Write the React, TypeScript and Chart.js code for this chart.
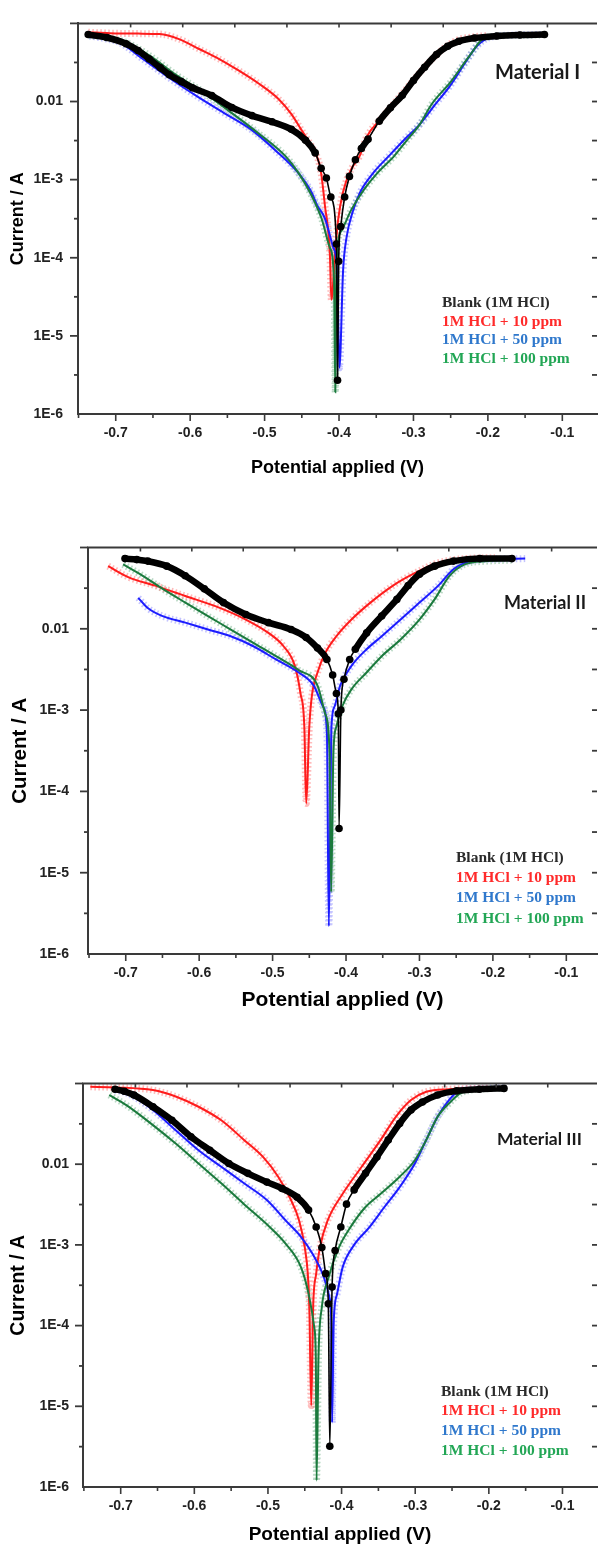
import { useEffect, useRef } from 'react';
import { Chart, registerables } from 'chart.js';

Chart.register(...registerables);

type Pt = [number, number];

// ---------- Material I : [potential (V), current (A)] ----------
const m1Blank: Pt[] = [
  [-0.737, 0.072], [-0.712, 0.066], [-0.686, 0.055], [-0.67, 0.045], [-0.655, 0.035],
  [-0.64, 0.027], [-0.628, 0.022], [-0.612, 0.018], [-0.597, 0.015], [-0.571, 0.0119],
  [-0.544, 0.0084], [-0.517, 0.0066], [-0.49, 0.0055], [-0.464, 0.0044], [-0.445, 0.0032],
  [-0.432, 0.0022], [-0.424, 0.0014], [-0.417, 0.00105], [-0.411, 0.0006], [-0.4035, 0.00015],
  [-0.402, 0.0000027], [-0.4005, 0.00009], [-0.3977, 0.00025], [-0.3924, 0.0006], [-0.386, 0.0011],
  [-0.378, 0.0018], [-0.37, 0.0025], [-0.361, 0.0033], [-0.346, 0.0056], [-0.331, 0.0083],
  [-0.315, 0.012], [-0.3, 0.0186], [-0.285, 0.0275], [-0.269, 0.04], [-0.254, 0.051],
  [-0.239, 0.059], [-0.218, 0.065], [-0.188, 0.069], [-0.157, 0.071], [-0.124, 0.072],
];
const m1Ppm10: Pt[] = [
  [-0.737, 0.077], [-0.708, 0.075], [-0.67, 0.074], [-0.641, 0.073], [-0.615, 0.063],
  [-0.588, 0.047], [-0.561, 0.035], [-0.535, 0.025], [-0.508, 0.017], [-0.481, 0.0107],
  [-0.464, 0.0069], [-0.451, 0.0044], [-0.437, 0.0027], [-0.428, 0.0018], [-0.424, 0.0012],
  [-0.419, 0.00047], [-0.4123, 0.000112], [-0.4103, 0.000029], [-0.405, 0.000123], [-0.4013, 0.0003],
  [-0.3947, 0.00069], [-0.3836, 0.00136], [-0.3724, 0.002], [-0.363, 0.0035], [-0.3425, 0.0062],
  [-0.317, 0.012], [-0.2915, 0.0235], [-0.271, 0.038], [-0.2557, 0.051], [-0.2404, 0.0615],
  [-0.215, 0.068], [-0.2, 0.07],
];
const m1Ppm50: Pt[] = [
  [-0.735, 0.069], [-0.715, 0.064], [-0.695, 0.057], [-0.6636, 0.035], [-0.628, 0.02],
  [-0.588, 0.0112], [-0.552, 0.0069], [-0.517, 0.0043], [-0.486, 0.0024], [-0.455, 0.00123],
  [-0.437, 0.00069], [-0.4295, 0.00047], [-0.419, 0.00032], [-0.408, 0.000138], [-0.4025, 0.000069],
  [-0.3995, 0.0000039], [-0.3945, 0.00007], [-0.39, 0.00018], [-0.3815, 0.00039], [-0.3716, 0.00069],
  [-0.3537, 0.00123], [-0.3332, 0.002], [-0.313, 0.0032], [-0.2915, 0.0051], [-0.271, 0.0091],
  [-0.2506, 0.016], [-0.2302, 0.0316], [-0.215, 0.051], [-0.1996, 0.065], [-0.164, 0.071],
  [-0.124, 0.072],
];
const m1Ppm100: Pt[] = [
  [-0.736, 0.07], [-0.71, 0.065], [-0.686, 0.057], [-0.655, 0.039], [-0.619, 0.022],
  [-0.584, 0.0135], [-0.548, 0.0076], [-0.508, 0.0039], [-0.472, 0.002], [-0.4547, 0.00123],
  [-0.437, 0.00063], [-0.4236, 0.00032], [-0.4123, 0.000135], [-0.4067, 0.000052], [-0.405, 0.0000019],
  [-0.4035, 0.00008], [-0.397, 0.00022], [-0.3836, 0.00041], [-0.3658, 0.00076], [-0.348, 0.00123],
  [-0.326, 0.002], [-0.31, 0.0031], [-0.2915, 0.0051], [-0.276, 0.0091], [-0.25, 0.0178],
  [-0.225, 0.038], [-0.2047, 0.065], [-0.17, 0.07], [-0.13, 0.071],
];

// ---------- Material II ----------
const m2Blank: Pt[] = [
  [-0.701, 0.073], [-0.685, 0.071], [-0.67, 0.068], [-0.644, 0.059], [-0.619, 0.045],
  [-0.593, 0.031], [-0.567, 0.021], [-0.5365, 0.015], [-0.5057, 0.0119], [-0.4748, 0.0098],
  [-0.4542, 0.0078], [-0.4388, 0.0058], [-0.426, 0.0042], [-0.4182, 0.0027], [-0.4131, 0.0016],
  [-0.4105, 0.0009], [-0.4095, 0.000035], [-0.407, 0.001], [-0.4028, 0.0024], [-0.395, 0.0042],
  [-0.3874, 0.0056], [-0.372, 0.0089], [-0.3514, 0.0144], [-0.3308, 0.023], [-0.3154, 0.034],
  [-0.3, 0.047], [-0.2794, 0.059], [-0.2537, 0.068], [-0.2177, 0.073], [-0.174, 0.073],
];
const m2Ppm10: Pt[] = [
  [-0.724, 0.059], [-0.696, 0.043], [-0.66, 0.034], [-0.619, 0.0253], [-0.578, 0.019],
  [-0.5365, 0.013], [-0.5057, 0.0089], [-0.4851, 0.0061], [-0.4697, 0.0035], [-0.462, 0.0016],
  [-0.4568, 0.00063], [-0.4542, 0.000071], [-0.45, 0.00063], [-0.4465, 0.0015], [-0.4388, 0.0029],
  [-0.4285, 0.005], [-0.4131, 0.0081], [-0.3926, 0.013], [-0.3668, 0.021], [-0.336, 0.034],
  [-0.3051, 0.049], [-0.2743, 0.065], [-0.2383, 0.073], [-0.197, 0.075],
];
const m2Ppm50: Pt[] = [
  [-0.683, 0.024], [-0.67, 0.018], [-0.6496, 0.0143], [-0.6188, 0.0119], [-0.588, 0.0098],
  [-0.557, 0.0081], [-0.5262, 0.0061], [-0.4954, 0.0042], [-0.4645, 0.0029], [-0.444, 0.002],
  [-0.4311, 0.0011], [-0.426, 0.00052], [-0.4234, 0.0000022], [-0.4198, 0.00063], [-0.4157, 0.0011],
  [-0.408, 0.002], [-0.3926, 0.0035], [-0.372, 0.0056], [-0.3514, 0.0081], [-0.3257, 0.013],
  [-0.3, 0.021], [-0.2743, 0.034], [-0.2537, 0.054], [-0.2332, 0.067], [-0.197, 0.072],
  [-0.156, 0.073],
];
const m2Ppm100: Pt[] = [
  [-0.7036, 0.062], [-0.6805, 0.047], [-0.6496, 0.031], [-0.6188, 0.021], [-0.588, 0.0143],
  [-0.557, 0.0098], [-0.5262, 0.0067], [-0.4954, 0.0046], [-0.4645, 0.0031], [-0.4388, 0.002],
  [-0.4285, 0.00091], [-0.4224, 0.0003], [-0.4203, 0.0000058], [-0.4172, 0.0003], [-0.4131, 0.00063],
  [-0.4054, 0.0011], [-0.3926, 0.0018], [-0.372, 0.0029], [-0.3514, 0.0046], [-0.3257, 0.0074],
  [-0.3, 0.013], [-0.2794, 0.023], [-0.2588, 0.045], [-0.2383, 0.062], [-0.2075, 0.068],
  [-0.174, 0.07],
];

// ---------- Material III ----------
const m3Blank: Pt[] = [
  [-0.7077, 0.085], [-0.695, 0.08], [-0.682, 0.072], [-0.6562, 0.0515], [-0.6304, 0.035],
  [-0.6046, 0.0219], [-0.5789, 0.0149], [-0.5531, 0.0102], [-0.5273, 0.0077], [-0.5015, 0.006],
  [-0.4809, 0.005], [-0.4603, 0.0039], [-0.4448, 0.0027], [-0.4345, 0.00167], [-0.4268, 0.00093],
  [-0.4216, 0.00044], [-0.418, 0.000186], [-0.416, 0.0000032], [-0.4129, 0.0003], [-0.4088, 0.00085],
  [-0.401, 0.00167], [-0.3933, 0.0032], [-0.383, 0.0048], [-0.3675, 0.0077], [-0.352, 0.0123],
  [-0.3366, 0.02], [-0.3211, 0.032], [-0.3057, 0.047], [-0.2902, 0.059], [-0.2696, 0.072],
  [-0.2438, 0.081], [-0.2129, 0.085], [-0.1794, 0.087],
];
const m3Ppm10: Pt[] = [
  [-0.7412, 0.091], [-0.7077, 0.0895], [-0.6562, 0.083], [-0.6253, 0.069], [-0.5943, 0.0515],
  [-0.5634, 0.035], [-0.5325, 0.02], [-0.5067, 0.0123], [-0.4861, 0.007], [-0.4706, 0.0039],
  [-0.4577, 0.002], [-0.45, 0.00093], [-0.4459, 0.00044], [-0.4438, 0.00017], [-0.4412, 0.0000102],
  [-0.4386, 0.00017], [-0.4345, 0.00044], [-0.4294, 0.00093], [-0.419, 0.002], [-0.3985, 0.0043],
  [-0.3727, 0.0093], [-0.3469, 0.02], [-0.3263, 0.0387], [-0.3057, 0.0623], [-0.285, 0.079],
  [-0.2541, 0.085], [-0.218, 0.087], [-0.2, 0.088],
];
const m3Ppm50: Pt[] = [
  [-0.7077, 0.083], [-0.695, 0.078], [-0.682, 0.0686], [-0.6562, 0.047], [-0.6253, 0.0264],
  [-0.5943, 0.0149], [-0.5634, 0.0093], [-0.5325, 0.0058], [-0.5015, 0.0036], [-0.4758, 0.002],
  [-0.4552, 0.00126], [-0.4397, 0.00078], [-0.4242, 0.0004], [-0.4165, 0.000225], [-0.4139, 0.000105],
  [-0.4129, 0.0000063], [-0.4108, 0.000105], [-0.4062, 0.000245], [-0.3985, 0.00053], [-0.383, 0.001],
  [-0.3624, 0.00165], [-0.3418, 0.00295], [-0.3211, 0.0052], [-0.3005, 0.0102], [-0.285, 0.02],
  [-0.2696, 0.0387], [-0.2541, 0.0623], [-0.2387, 0.083], [-0.2129, 0.087], [-0.1768, 0.089],
];
const m3Ppm100: Pt[] = [
  [-0.7155, 0.072], [-0.6923, 0.054], [-0.6562, 0.0305], [-0.6253, 0.018], [-0.5943, 0.0102],
  [-0.5634, 0.0058], [-0.5325, 0.0032], [-0.5015, 0.0018], [-0.4758, 0.00103], [-0.4552, 0.00053],
  [-0.4448, 0.000247], [-0.4371, 0.000095], [-0.435, 0.00004], [-0.434, 0.0000012], [-0.4314, 0.00004],
  [-0.4268, 0.00017], [-0.419, 0.00036], [-0.4036, 0.00093], [-0.3881, 0.00165], [-0.3675, 0.00295],
  [-0.3469, 0.0043], [-0.3211, 0.007], [-0.3005, 0.0112], [-0.285, 0.02], [-0.2696, 0.0387],
  [-0.2541, 0.0567], [-0.2387, 0.0755], [-0.2129, 0.085], [-0.182, 0.087],
];

// ---------- labels & ticks ----------
const seriesLabels = ['Blank (1M HCl)', '1M HCl + 10 ppm', '1M HCl + 50 ppm', '1M HCl + 100 ppm'];
const materialNames = ['Material I', 'Material II', 'Material III'];
const xTitle = 'Potential applied (V)';
const yTitle = 'Current / A';
const xMajorTicks = [-0.7, -0.6, -0.5, -0.4, -0.3, -0.2, -0.1];
const xMinorTicks = [-0.75, -0.65, -0.55, -0.45, -0.35, -0.25, -0.15];
const xTopTicks = [-0.68, -0.61, -0.54, -0.47, -0.4, -0.33, -0.26, -0.19, -0.12];
const yDecades = [1e-6, 1e-5, 1e-4, 1e-3, 1e-2, 1e-1];
const yDecadeLabels = ['1E-6', '1E-5', '1E-4', '1E-3', '0.01', ''];
const yHalves = [3.162e-6, 3.162e-5, 3.162e-4, 3.162e-3, 3.162e-2];

const panelSeries: Pt[][][] = [
  [m1Blank, m1Ppm10, m1Ppm50, m1Ppm100],
  [m2Blank, m2Ppm10, m2Ppm50, m2Ppm100],
  [m3Blank, m3Ppm10, m3Ppm50, m3Ppm100],
];

// ---------- styles / layout ----------
const lineColors = ['#000000', '#ff1c1c', '#1c1cff', '#1b7a3d'];
const haloColors = ['', 'rgba(255,120,120,0.5)', 'rgba(140,140,255,0.5)', 'rgba(130,185,150,0.55)'];
const legendColors = ['#2a2a2a', '#ff2a2a', '#2f78cc', '#22a655'];
const lineOrder = [0, 3, 2, 1];
const AX = '#3a3a3a';
const SANS = "'Liberation Sans', Arial, sans-serif";

const layouts = [
  { top: 0, height: 520, plotTop: 13, plotBottom: 414, plotLeft: 78, xMin: -0.7507, xMax: -0.0534,
    xTitleSize: 18, yTitleSize: 18, xTitlePad: 41, yTitlePad: 7.6, yTickPad: 15,
    matX: 495, matY: 73, matSize: 20, legX: 442, legY: [303, 321.5, 340, 358.5] },
  { top: 520, height: 520, plotTop: 27.5, plotBottom: 434, plotLeft: 88, xMin: -0.7514, xMax: -0.0582,
    xTitleSize: 21, yTitleSize: 20.5, xTitlePad: 27.4, yTitlePad: 7.7, yTickPad: 19,
    matX: 504, matY: 83, matSize: 18, legX: 456, legY: [338, 358, 378, 399] },
  { top: 1040, height: 508, plotTop: 43.5, plotBottom: 447, plotLeft: 83, xMin: -0.7512, xMax: -0.0531,
    xTitleSize: 19, yTitleSize: 19.5, xTitlePad: 1.6, yTitlePad: 7.3, yTickPad: 14,
    matX: 497, matY: 99, matSize: 17.5, legX: 441, legY: [352, 371, 391, 411] },
];

const decor = {
  id: 'decor',
  afterDraw(chart: any, _args: any, opts: any) {
    const { ctx, chartArea: a, scales } = chart;
    const xs = scales.x;
    const ys = scales.y;
    ctx.save();
    ctx.strokeStyle = AX;
    const seg = (x1: number, y1: number, x2: number, y2: number, w: number) => {
      ctx.lineWidth = w;
      ctx.beginPath();
      ctx.moveTo(x1, y1);
      ctx.lineTo(x2, y2);
      ctx.stroke();
    };
    // top frame
    seg(a.left - 1, a.top, a.right, a.top, 2);
    const inX = (v: number) => v >= xs.min - 1e-9 && v <= xs.max + 1e-9;
    for (const v of xMajorTicks) if (inX(v)) { const p = xs.getPixelForValue(v); seg(p, a.bottom, p, a.bottom + 7, 1.6); }
    for (const v of xMinorTicks) if (inX(v)) { const p = xs.getPixelForValue(v); seg(p, a.bottom, p, a.bottom + 4, 1.6); }
    for (const v of xTopTicks) if (inX(v)) { const p = xs.getPixelForValue(v); seg(p, a.top, p, a.top + 4, 1.6); }
    yDecades.forEach((v, i) => {
      if (i === 0) return;
      const p = ys.getPixelForValue(v);
      seg(a.left - 8, p, a.left, p, 1.8);
      if (i < yDecades.length - 1) seg(a.right - 5, p, a.right, p, 1.8);
    });
    for (const v of yHalves) {
      const p = ys.getPixelForValue(v);
      seg(a.left - 4, p, a.left, p, 1.8);
      seg(a.right - 5, p, a.right, p, 1.8);
    }
    // material name
    ctx.fillStyle = '#1a1a1a';
    ctx.textBaseline = 'middle';
    ctx.textAlign = 'left';
    ctx.font = `bold ${opts.matSize}px Lato, 'Open Sans', sans-serif`;
    ctx.fillText(opts.material, opts.matX, opts.matY);
    // legend text
    ctx.font = "bold 15.5px 'Liberation Serif', 'Times New Roman', serif";
    seriesLabels.forEach((t, i) => {
      ctx.fillStyle = legendColors[i];
      ctx.fillText(t, opts.legX, opts.legY[i]);
    });
    ctx.restore();
  },
};

function Panel({ idx }: { idx: number }) {
  const ref = useRef<HTMLCanvasElement>(null);
  const L = layouts[idx];
  useEffect(() => {
    const sets = panelSeries[idx];
    const datasets: any[] = [];
    sets.forEach((pts, i) => {
      const data = pts.map(([x, y]) => ({ x, y }));
      if (i > 0) {
        datasets.push({
          data,
          showLine: true,
          borderColor: haloColors[i],
          borderWidth: 7,
          borderDash: [1.6, 2.4],
          pointRadius: 0,
          cubicInterpolationMode: 'monotone',
          order: 10,
        });
        datasets.push({
          data,
          showLine: true,
          borderColor: lineColors[i],
          borderWidth: 2,
          pointRadius: 0,
          cubicInterpolationMode: 'monotone',
          order: lineOrder[i],
        });
      } else {
        datasets.push({
          data,
          showLine: true,
          borderColor: lineColors[0],
          borderWidth: 1.5,
          segment: {
            borderWidth: (c: any) => {
              const dx = Math.abs(c.p1.x - c.p0.x);
              const dy = Math.abs(c.p1.y - c.p0.y);
              return dy < dx * 1.6 ? 6.5 : 1.6;
            },
          },
          pointRadius: 3.8,
          pointBackgroundColor: '#000',
          pointBorderColor: '#000',
          pointBorderWidth: 0,
          cubicInterpolationMode: 'monotone',
          order: 0,
        });
      }
    });
    const chart = new Chart(ref.current as HTMLCanvasElement, {
      type: 'scatter',
      data: { datasets },
      options: {
        responsive: false,
        maintainAspectRatio: false,
        animation: false,
        devicePixelRatio: 1,
        events: [],
        layout: { padding: { top: L.plotTop, right: 0, bottom: 0, left: 0 } },
        plugins: {
          legend: { display: false },
          tooltip: { enabled: false },
          decor: {
            material: materialNames[idx],
            matX: L.matX,
            matY: L.matY,
            matSize: L.matSize,
            legX: L.legX,
            legY: L.legY,
          },
        } as any,
        scales: {
          x: {
            type: 'linear',
            position: 'bottom',
            min: L.xMin,
            max: L.xMax,
            afterBuildTicks: (s: any) => {
              s.ticks = [...xMajorTicks, ...xMinorTicks]
                .filter((v) => v >= L.xMin && v <= L.xMax)
                .sort((p, q) => p - q)
                .map((v) => ({ value: v }));
            },
            afterFit: (s: any) => {
              s.height = L.height - L.plotBottom;
            },
            ticks: {
              autoSkip: false,
              maxRotation: 0,
              padding: 10.5,
              color: '#222',
              font: { family: SANS, size: 14, weight: 'bold' },
              callback: (v: any) => {
                const n = Number(v);
                return xMajorTicks.some((m) => Math.abs(m - n) < 1e-6) ? n.toFixed(1) : '';
              },
            },
            grid: { display: false, drawTicks: false },
            border: { display: true, color: AX, width: 2 },
            title: {
              display: true,
              text: xTitle,
              color: '#000',
              font: { family: SANS, size: L.xTitleSize, weight: 'bold' },
              padding: { top: 0, bottom: L.xTitlePad },
            },
          },
          y: {
            type: 'logarithmic',
            position: 'left',
            min: 1e-6,
            max: 0.1,
            afterBuildTicks: (s: any) => {
              s.ticks = [...yDecades.slice(0, 5), ...yHalves]
                .sort((p, q) => p - q)
                .map((v) => ({ value: v }));
            },
            afterFit: (s: any) => {
              s.width = L.plotLeft;
            },
            ticks: {
              autoSkip: false,
              padding: L.yTickPad,
              color: '#222',
              font: { family: SANS, size: 14, weight: 'bold' },
              callback: (v: any) => {
                const n = Number(v);
                const k = yDecades.findIndex((d) => Math.abs(d - n) / d < 1e-6);
                return k >= 0 ? yDecadeLabels[k] : '';
              },
            },
            grid: { display: false, drawTicks: false },
            border: { display: true, color: AX, width: 2 },
            title: {
              display: true,
              text: yTitle,
              color: '#000',
              font: { family: SANS, size: L.yTitleSize, weight: 'bold' },
              padding: { top: L.yTitlePad, bottom: 0 },
            },
          },
        },
      },
      plugins: [decor],
    } as any);
    return () => chart.destroy();
  }, [idx]);
  return (
    <canvas
      ref={ref}
      width={601}
      height={L.height}
      style={{ position: 'absolute', left: 0, top: L.top, width: 601, height: L.height, display: 'block' }}
    />
  );
}

export default function App() {
  return (
    <div style={{ position: 'absolute', left: 0, top: 0, width: 601, height: 1548, background: '#fff', overflow: 'hidden' }}>
      <Panel idx={0} />
      <Panel idx={1} />
      <Panel idx={2} />
    </div>
  );
}
